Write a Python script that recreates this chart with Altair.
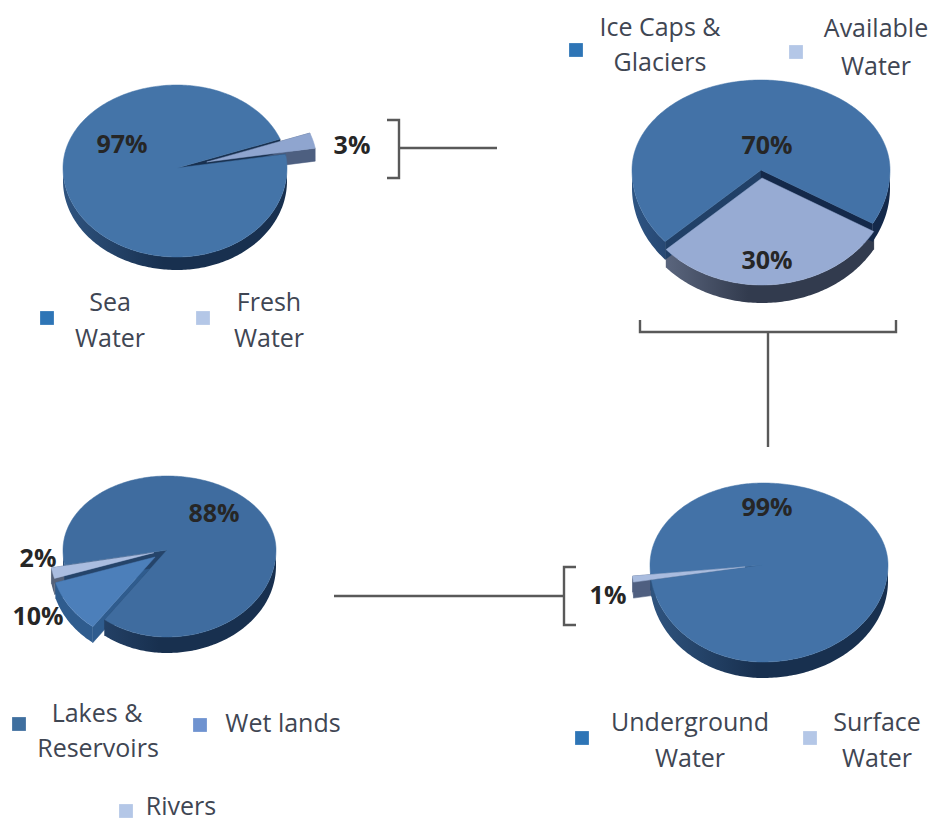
import math
import altair as alt
import pandas as pd

alt.data_transformers.disable_max_rows()

W, H = 935, 824

# Shares of each pie, in percent, clockwise from the start angle.
sea_names = ["Sea Water", "Fresh Water"]
sea_values = [97, 3]
ice_names = ["Ice Caps & Glaciers", "Available Water"]
ice_values = [70, 30]
ground_names = ["Underground Water", "Surface Water"]
ground_values = [99, 1]
lake_names = ["Lakes & Reservoirs", "Wet lands", "Rivers"]
lake_values = [88, 10, 2]

# Pie geometry: apex, half-widths, back and front half-heights, extrusion depth,
# the angle (clockwise from 12 o'clock) at which the first slice starts.
# Slice 0 is the body of the pie; "pulled" lists the other slices in painting order.
PIES = [
    dict(values=sea_values, cx=177, cy=168, rl=114, rr=110, rb=83, rf=89, depth=13, start=80.4,
         explode=[0, 0.28], pulled=[1],
         face=["#4474a8", "#8fa5cf"],
         rim=[("#2f5480", "#18304f"), ("#5c6f92", "#4d5f80")]),
    dict(values=ice_values, cx=761, cy=170, rl=129, rr=129, rb=90, rf=107, depth=18, start=228,
         explode=[0, 0.075], pulled=[1],
         face=["#4372a7", "#97abd3"],
         rim=[("#2e5583", "#14294a"), ("#6a7790", "#323b4e")]),
    dict(values=lake_values, cx=167, cy=550, rl=104, rr=109, rb=74, rf=87, depth=16, start=260,
         explode=[0, 0.14, 0.13], pulled=[2, 1],
         face=["#3f6c9f", "#4c7fba", "#aabde0"],
         rim=[("#2b4c76", "#18304f"), ("#2f5c8e", "#2f5c8e"), ("#55627a", "#55627a")]),
    dict(values=ground_values, cx=763, cy=565, rl=113, rr=125, rb=82, rf=97, depth=16, start=264.6,
         explode=[0, 0.16], pulled=[1],
         face=["#4372a7", "#a9bcdf"],
         rim=[("#2f5480", "#18304f"), ("#4f5f80", "#4f5f80")]),
]

# Connector brackets between the pies, one list of x/y per polyline.
connector_x = [
    [387, 399, 399, 387], [399, 497],
    [640, 640, 896, 896], [768, 768],
    [334, 564], [576, 564, 564, 576],
]
connector_y = [
    [120, 120, 178, 178], [148, 148],
    [320, 332, 332, 320], [332, 447],
    [596, 596], [567, 567, 625, 625],
]

value_text = ["97%", "3%", "70%", "30%", "88%", "2%", "10%", "99%", "1%"]
value_x = [122, 352, 767, 767, 214, 38, 38, 767, 608]
value_y = [145, 146, 146, 261, 514, 559, 617, 508, 596]

legend_text = ["Sea", "Water", "Fresh", "Water", "Ice Caps &", "Glaciers", "Available", "Water",
               "Lakes &", "Reservoirs", "Wet lands", "Rivers", "Underground", "Water", "Surface", "Water"]
legend_x = [110, 110, 269, 269, 660, 660, 876, 876, 97, 98, 283, 181, 690, 690, 877, 877]
legend_y = [303, 339, 303, 339, 28, 63, 29, 67, 714, 749, 724, 807, 723, 759, 723, 759]

swatch_x = [47, 203, 576, 796, 19, 200, 126, 582, 810]
swatch_y = [318, 318, 50, 52, 724, 725, 811, 738, 738]
swatch_color = ["#2e75b6", "#b4c7e7", "#2e75b6", "#b4c7e7", "#3f6f9f", "#6f93d0", "#b4c7e7", "#2e75b6", "#b4c7e7"]

x_scale = alt.Scale(domain=[0, W], range=[0, W], nice=False, zero=False)
y_scale = alt.Scale(domain=[0, H], range=[0, H], nice=False, zero=False)
X = alt.X("x:Q", scale=x_scale, axis=None)
Y = alt.Y("y:Q", scale=y_scale, axis=None)


def mix(a, b, t):
    ca = [int(a[i:i + 2], 16) for i in (1, 3, 5)]
    cb = [int(b[i:i + 2], 16) for i in (1, 3, 5)]
    return "#" + "".join(f"{round(p + (q - p) * t):02x}" for p, q in zip(ca, cb))


def rim_point(pie, angle):
    s, c = math.sin(math.radians(angle)), math.cos(math.radians(angle))
    return (s * (pie["rr"] if s > 0 else pie["rl"]), -c * (pie["rb"] if c > 0 else pie["rf"]))


def polygon(points, color):
    """One flat-coloured closed shape."""
    closed = list(points) + [points[0]]
    df = pd.DataFrame(dict(i=range(len(closed)), x=[p[0] for p in closed], y=[p[1] for p in closed]))
    return alt.Chart(df).mark_line(filled=True, fill=color, stroke=color, strokeWidth=0.5).encode(
        x=X, y=Y, order="i:Q"
    )


def shaded_polygon(points, xa, xb, left, span, colors):
    """A wall section whose shade runs from light to dark across the pie's left part."""
    closed = list(points) + [points[0]]
    df = pd.DataFrame(dict(i=range(len(closed)), x=[p[0] for p in closed], y=[p[1] for p in closed]))
    shade = lambda x: mix(*colors, min(1, max(0, (x - left) / span)))
    stops = [alt.GradientStop(offset=0, color=shade(xa))]
    knee = left + span
    if xa < knee < xb:
        stops.append(alt.GradientStop(offset=(knee - xa) / (xb - xa), color=shade(knee)))
    stops.append(alt.GradientStop(offset=1, color=shade(xb)))
    gradient = alt.Gradient(gradient="linear", x1=0, x2=1, y1=0, y2=0, stops=stops)
    return alt.Chart(df).mark_line(filled=True, fill=gradient, strokeWidth=0).encode(
        x=X, y=Y, order="i:Q"
    )


def slice_geometry(pie):
    """Apex and rim outline of each slice, derived from its percentage."""
    out = []
    angle = pie["start"]
    for k, value in enumerate(pie["values"]):
        sweep = value * 3.6
        ox, oy = rim_point(pie, angle + sweep / 2)
        ax = pie["cx"] + ox * pie["explode"][k]
        ay = pie["cy"] + oy * pie["explode"][k]
        n = max(2, int(sweep))
        angles = [angle + sweep * j / n for j in range(n + 1)]
        arc = [(ax + rim_point(pie, a)[0], ay + rim_point(pie, a)[1]) for a in angles]
        out.append(dict(k=k, apex=(ax, ay), angles=angles, arc=arc))
        angle += sweep
    return out


def wall_layers(pie, part):
    layers = []
    k, d = part["k"], pie["depth"]
    left = pie["cx"] - pie["rl"]
    span = (pie["rl"] + pie["rr"]) * 0.45
    colors = pie["rim"][k]
    # The two cut faces left by the slice's straight edges
    for end in (part["arc"][0], part["arc"][-1]):
        ax, ay = part["apex"]
        t = min(1, max(0, ((ax + end[0]) / 2 - left) / span))
        layers.append(polygon([(ax, ay), end, (end[0], end[1] + d), (ax, ay + d)], mix(*colors, t * t)))
    # The curved outer wall, only where it faces the viewer
    run = []
    runs = []
    for a, p in zip(part["angles"], part["arc"]):
        if 90 <= a % 360 <= 270:
            run.append(p)
        else:
            if len(run) > 1:
                runs.append(run)
            run = []
    if len(run) > 1:
        runs.append(run)
    for run in runs:
        pts = run + [(x, y + d) for x, y in reversed(run)]
        xs = [p[0] for p in pts]
        layers.append(shaded_polygon(pts, min(xs), max(xs), left, span, colors))
    return layers


def face_layer(pie, part):
    return polygon([part["apex"]] + part["arc"], pie["face"][part["k"]])


layers = []
for pie in PIES:
    parts = slice_geometry(pie)
    # Walls of pulled slices sit behind the pie body, their faces in front of it.
    for k in pie["pulled"]:
        layers += wall_layers(pie, parts[k])
    layers += wall_layers(pie, parts[0])
    layers.append(face_layer(pie, parts[0]))
    for k in pie["pulled"]:
        layers.append(face_layer(pie, parts[k]))

conn_rows = []
for n, (xs, ys) in enumerate(zip(connector_x, connector_y)):
    for i, (x, y) in enumerate(zip(xs, ys)):
        conn_rows.append(dict(line=n, i=i, x=x, y=y))
connectors = alt.Chart(pd.DataFrame(conn_rows)).mark_line(color="#595959", strokeWidth=2.4).encode(
    x=X, y=Y, detail="line:N", order="i:Q"
)

value_labels = alt.Chart(pd.DataFrame(dict(t=value_text, x=value_x, y=value_y))).mark_text(
    font="Open Sans", fontWeight="bold", fontSize=25, color="#262626", align="center", baseline="middle"
).encode(x=X, y=Y, text="t:N")

legend_labels = alt.Chart(pd.DataFrame(dict(t=legend_text, x=legend_x, y=legend_y))).mark_text(
    font="Open Sans", fontSize=25, color="#3f4653", align="center", baseline="middle"
).encode(x=X, y=Y, text="t:N")

swatches = alt.Chart(pd.DataFrame(dict(x=swatch_x, y=swatch_y, c=swatch_color))).mark_square(
    size=190, opacity=1
).encode(x=X, y=Y, color=alt.Color("c:N", scale=None))

chart = alt.layer(*layers, connectors, swatches, legend_labels, value_labels).properties(
    width=W, height=H, padding=0, background="white",
    autosize=alt.AutoSizeParams(type="none"),
).configure_view(stroke=None)

chart.save("out.html", embed_options={"renderer": "svg", "actions": False})
